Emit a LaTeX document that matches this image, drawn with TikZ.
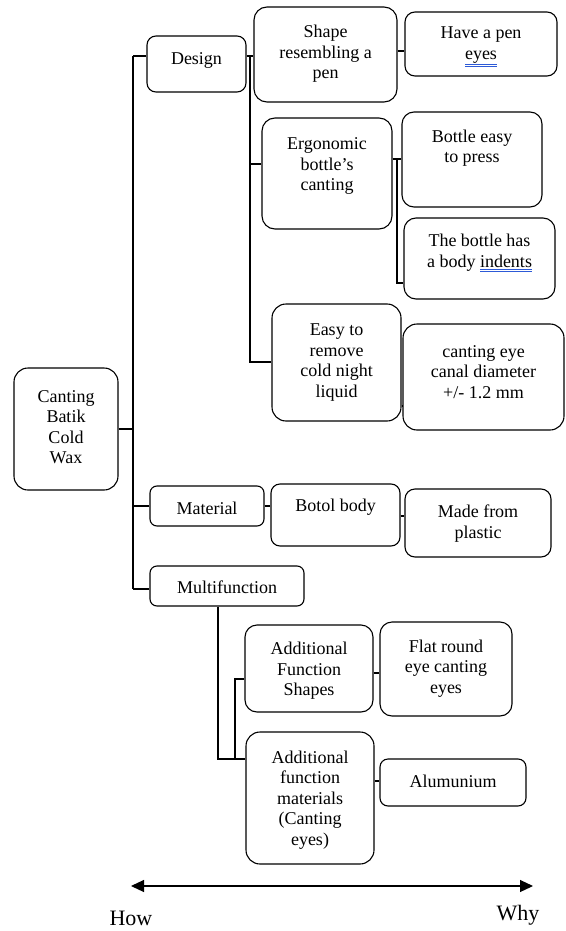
\documentclass[tikz,border=0pt]{standalone}
\usepackage{fontspec}
\setmainfont{Liberation Serif}
\usetikzlibrary{arrows.meta}
\definecolor{spellblue}{RGB}{45,90,215}
\newcommand\spell[1]{\textcolor{spellblue}{\underline{\underline{\textcolor{black}{#1}}}}}
\newcommand\bx[8][10]{%
  \node[box,rounded corners=#1pt,minimum width=#5pt,minimum height=#6pt] (#2) at (#3,-#4) {};
  \node[txt] (#2t) at (#3,-#7) {#8};}
\begin{document}
\begin{tikzpicture}[x=1pt,y=1pt,
  box/.style={draw, line width=1.1pt, inner sep=0pt},
  txt/.style={align=center, inner sep=0pt, font=\fontsize{18}{20.5}\selectfont},
  conn/.style={line width=1.1pt},
  big/.style={font=\fontsize{22}{26}\selectfont, inner sep=0pt}]
\useasboundingbox (0,0) rectangle (565,-931);

\bx[14]{root}{66}{429}{104}{122}{427}{Canting\\Batik\\Cold\\Wax}
\bx[9]{design}{196.5}{64}{99}{56}{60}{Design}
\bx[13]{shape}{325.5}{54.5}{143}{95}{54}{Shape\\resembling a\\pen}
\bx[10]{havepen}{481}{44}{152}{64}{47}{Have a pen\\\spell{eyes}}
\bx[13]{ergo}{327}{173.5}{130}{111}{166}{Ergonomic\\bottle's\\canting}
\bx[12]{easy}{472}{159.5}{140}{95}{148}{Bottle easy\\to press}
\bx[12]{indents}{479.5}{258.5}{151}{81}{253}{The bottle has\\a body \spell{indents}}
\bx[14]{remove}{336.5}{362.5}{129}{117}{362.5}{Easy to\\remove\\cold night\\liquid}
\bx[14]{canal}{483.5}{377}{161}{106}{372}{canting eye\\canal diameter\\+/- 1.2 mm}
\bx[7]{material}{207}{506}{114}{40}{508}{Material}
\bx[9]{botol}{335.5}{515}{129}{62}{507}{Botol body}
\bx[10]{plastic}{478}{523}{146}{68}{523.5}{Made from\\plastic}
\bx[7]{multi}{227}{586}{154}{40}{587}{Multifunction}
\bx[12]{afs}{309}{668.5}{128}{87}{671}{Additional\\Function\\Shapes}
\bx[12]{flat}{446}{669}{132}{94}{668.6}{Flat round\\eye canting\\eyes}
\bx[14]{afm}{310}{798}{128}{132}{800}{Additional\\function\\materials\\(Canting\\eyes)}
\bx[8]{alum}{453}{782.5}{146}{47}{781}{Alumunium}

% trunk
\coordinate (t1) at (133,-56);
\coordinate (t2) at (133,-589);
\draw[conn] (t1) -- (t2);
\draw[conn] (root.east) -- (root.east -| t1);
\draw[conn] (t1) -- (design.west |- t1);
\draw[conn] (material.west) -- (material.west -| t1);
\draw[conn] (t2) -- (multi.west |- t2);

% design subtree
\coordinate (d1) at (250,-56);
\coordinate (d2) at (250,-362);
\coordinate (d3) at (250,-164);
\draw[conn] (design.east |- d1) -- (shape.west |- d1);
\draw[conn] (d1) -- (d2) -- (remove.west |- d2);
\draw[conn] (d3) -- (ergo.west |- d3);
\coordinate (h1) at (400,-51);
\draw[conn] (shape.east |- h1) -- (havepen.west |- h1);
\coordinate (e1) at (397,-159);
\coordinate (e2) at (397,-283);
\draw[conn] (ergo.east |- e1) -- (e1) -- (e2) -- (indents.west |- e2);
\draw[conn] (e1) -- (easy.west |- e1);
\coordinate (r1) at (402,-406);
\draw[conn] (remove.east |- r1) -- (canal.west |- r1);

% material subtree
\draw[conn] (material.east) -- (botol.west |- material.east);
\coordinate (b1) at (402,-516);
\draw[conn] (botol.east |- b1) -- (plastic.west |- b1);

% multifunction subtree
\coordinate (m1) at (218,-759);
\coordinate (m2) at (235,-759);
\coordinate (m3) at (235,-679);
\draw[conn] (m1 |- multi.south) -- (m1) -- (afm.west |- m1);
\draw[conn] (m2) -- (m3) -- (afs.west |- m3);
\coordinate (f1) at (376,-673);
\draw[conn] (afs.east |- f1) -- (flat.west |- f1);
\coordinate (f2) at (376,-781);
\draw[conn] (afm.east |- f2) -- (alum.west |- f2);

% how-why axis
\coordinate (a1) at (131,-886);
\coordinate (a2) at (533,-886);
\draw[conn, {Triangle[length=13pt,width=12pt]}-{Triangle[length=13pt,width=12pt]}] (a1) -- (a2);
\node[big] (how) at (131,-918) {How};
\node[big] (why) at (518,-915) {Why};
\end{tikzpicture}
\end{document}
